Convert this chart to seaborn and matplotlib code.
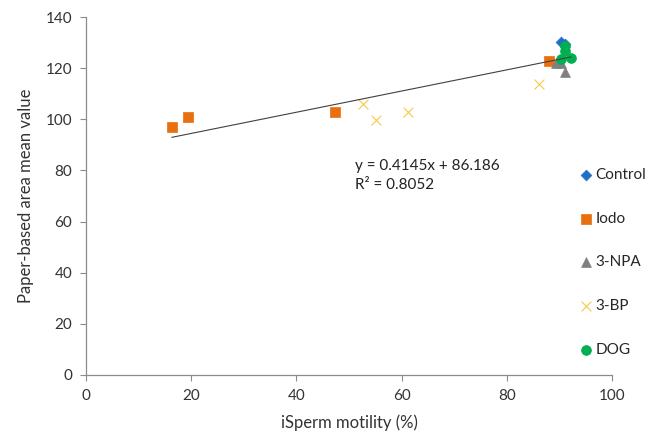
import numpy as np
import pandas as pd
import matplotlib
matplotlib.use("Agg")
import matplotlib.pyplot as plt
import seaborn as sns

# ── data ────────────────────────────────────────────────────
control_x = [90.2, 91.1]
control_y = [130.3, 129.4]
iodo_x = [16.3, 19.3, 47.3, 88.0]
iodo_y = [97.1, 101.0, 103.0, 122.8]
npa_x = [89.3, 90.2, 91.1]
npa_y = [122.1, 122.0, 118.6]
bp_x = [52.7, 55.2, 61.3, 86.2]
bp_y = [105.9, 99.7, 102.7, 113.8]
dog_x = [91.1, 91.0, 90.2, 92.2]
dog_y = [128.5, 126.8, 123.5, 123.8]

slope, intercept, r2 = 0.4145, 86.186, 0.8052

groups = ["Control", "Iodo", "3-NPA", "3-BP", "DOG"]
xs = [control_x, iodo_x, npa_x, bp_x, dog_x]
ys = [control_y, iodo_y, npa_y, bp_y, dog_y]

df = pd.concat([pd.DataFrame({"motility": x, "area": y, "group": g})
                for g, x, y in zip(groups, xs, ys)], ignore_index=True)

colors = {"Control": "#1f6fc5", "Iodo": "#e8700e", "3-NPA": "#808080",
          "3-BP": "#f7c948", "DOG": "#00b050"}
markers = {"Control": "D", "Iodo": "s", "3-NPA": "^", "3-BP": "x", "DOG": "o"}
sizes = {"Control": 30, "Iodo": 46, "3-NPA": 50, "3-BP": 50, "DOG": 50}

sns.set_theme(style="white")
plt.rcParams["font.family"] = ["Lato", "DejaVu Sans"]

fig = plt.figure(figsize=(6.47, 4.37), dpi=100)
ax = fig.add_axes([0.133, 0.142, 0.813, 0.819])

for g in groups:
    sub = df[df["group"] == g]
    if markers[g] == "x":
        sns.scatterplot(data=sub, x="motility", y="area", ax=ax, marker="x",
                        color=colors[g], s=sizes[g], linewidth=0.8, label=g)
    else:
        sns.scatterplot(data=sub, x="motility", y="area", ax=ax, marker=markers[g],
                        color=colors[g], s=sizes[g], edgecolor=colors[g],
                        linewidth=0.5, label=g)

# linear trendline across the data range
xl = np.array([df["motility"].min(), df["motility"].max()])
ax.plot(xl, slope * xl + intercept, color="#404040", lw=0.8, zorder=1)

ax.text(51.2, 78, f"y = {slope}x + {intercept}\nR² = {r2}",
        fontsize=11, color="#222222", va="center", ha="left", linespacing=1.45)

ax.set_xlim(0, 100)
ax.set_ylim(0, 140)
ax.set_xticks(range(0, 101, 20))
ax.set_yticks(range(0, 141, 20))
ax.set_xlabel("iSperm motility (%)", fontsize=12, color="#333333", labelpad=8)
ax.set_ylabel("Paper-based area mean value", fontsize=12, color="#333333", labelpad=8)
ax.tick_params(axis="both", labelsize=11, colors="#333333", length=4,
               width=0.8, direction="out", bottom=True, left=True, pad=6)
for s in ["top", "right"]:
    ax.spines[s].set_visible(False)
for s in ["left", "bottom"]:
    ax.spines[s].set_color("#8c8c8c")
    ax.spines[s].set_linewidth(0.9)
ax.tick_params(axis="both", color="#8c8c8c")

handles, labels = ax.get_legend_handles_labels()
ax.get_legend().remove()
fig.legend(handles, labels, loc="upper left", bbox_to_anchor=(0.885, 0.63),
           frameon=False, fontsize=11, labelspacing=1.95, handletextpad=0.1,
           handlelength=1.0, borderaxespad=0)

fig.savefig("out.png", dpi=100)
